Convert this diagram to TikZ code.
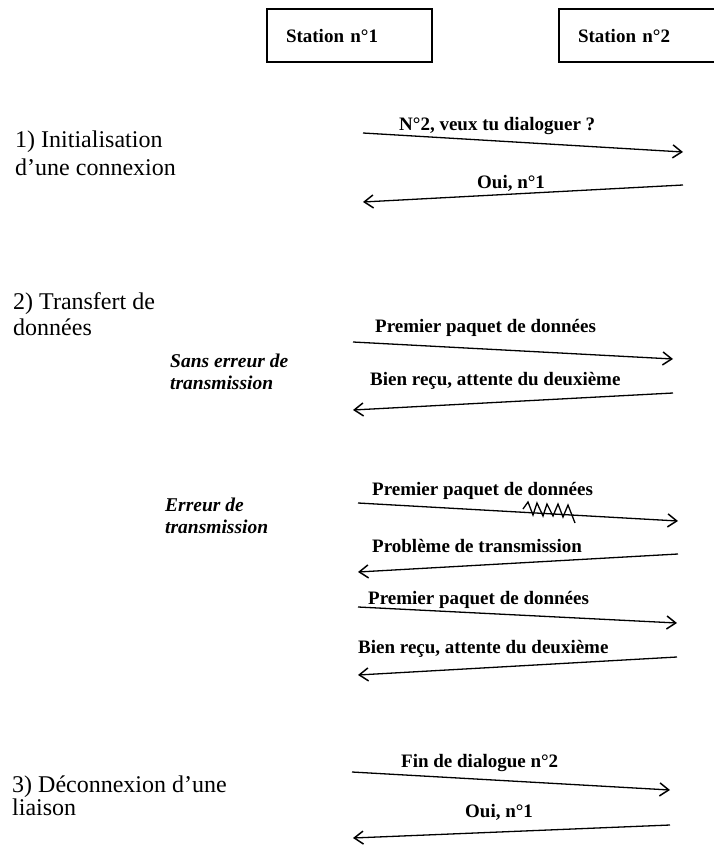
\documentclass[tikz,border=0pt]{standalone}
\usepackage{fontspec}
\setmainfont{Liberation Serif}
\usetikzlibrary{arrows.meta}
\begin{document}
\begin{tikzpicture}[x=1pt,y=-1pt,
  msg/.style={line width=1.3pt, -{Straight Barb[length=9pt,width=13pt,line width=1.5pt]}},
  lbl/.style={anchor=base west, inner sep=0pt, font=\bfseries\fontsize{19}{22}\selectfont},
  head/.style={anchor=base west, inner sep=0pt, align=left, font=\fontsize{24}{26}\selectfont},
  case/.style={anchor=base west, inner sep=0pt, align=left, font=\bfseries\itshape\fontsize{19.5}{23}\selectfont},
  station/.style={draw, line width=1.2pt, text width=127pt, inner xsep=19pt, inner ysep=0pt,
    minimum height=53pt, align=left, font=\bfseries\fontsize{19}{22}\selectfont},
  noise/.style={line width=1.3pt, line join=miter}]
\useasboundingbox (0,0) rectangle (714,849);

% stations
\node[station] (s1) at (349.5,35.5) {Station n°1};
\node[station] (s2) at (641.5,35.5) {Station n°2};

% headings (anchor = baseline of the last line)
\node[head] (h1) at (15,175) {1) Initialisation\\[2pt]d'une connexion};
\node[head] (h2) at (13,335) {2) Transfert de\\données};
\node[head] (h3) at (12,815) {3) Déconnexion d'une\\[-3pt]liaison};
\node[case] (c1) at (170,389) {Sans erreur de\\[-1pt]transmission};
\node[case] (c2) at (165,533) {Erreur de\\[-1pt]transmission};

% arrow end points
\coordinate (a1s) at (363,133); \coordinate (a1e) at (683,152);
\coordinate (a2s) at (683,185); \coordinate (a2e) at (363,202);
\coordinate (a3s) at (353,342); \coordinate (a3e) at (673,359);
\coordinate (a4s) at (673,393); \coordinate (a4e) at (353,410);
\coordinate (a5s) at (358,503); \coordinate (a5e) at (678,521);
\coordinate (a6s) at (678,554); \coordinate (a6e) at (358,572);
\coordinate (a7s) at (358,607); \coordinate (a7e) at (677,623);
\coordinate (a8s) at (677,657); \coordinate (a8e) at (358,675);
\coordinate (a9s) at (352,772); \coordinate (a9e) at (670,790);
\coordinate (a10s) at (670,825); \coordinate (a10e) at (353,838);

\foreach \i in {1,...,10} {\draw[msg] (a\i s) -- (a\i e);}

% labels
\node[lbl] (l1) at (399,130) {N°2, veux tu dialoguer ?};
\node[lbl] (l2) at (477,188) {Oui, n°1};
\node[lbl] (l3) at (375,332) {Premier paquet de données};
\node[lbl] (l4) at (370,385) {Bien reçu, attente du deuxième};
\node[lbl] (l5) at (372,495) {Premier paquet de données};
\node[lbl] (l6) at (372,552) {Problème de transmission};
\node[lbl] (l7) at (368,604) {Premier paquet de données};
\node[lbl] (l8) at (358,653) {Bien reçu, attente du deuxième};
\node[lbl] (l9) at (401,767) {Fin de dialogue n°2};
\node[lbl] (l10) at (465,817) {Oui, n°1};

% transmission noise
\draw[noise] (523,509) -- (528,502) -- (533,515) -- (537,503) -- (543,516) -- (547,504)
  -- (553,516) -- (558,504) -- (563,517) -- (568,505) -- (575,523);
\end{tikzpicture}
\end{document}
